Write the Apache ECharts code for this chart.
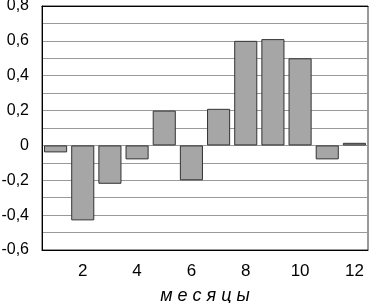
<!DOCTYPE html>
<html><head><meta charset="utf-8">
<script src="https://cdn.jsdelivr.net/npm/echarts@6/dist/echarts.min.js"></script>
<style>html,body{margin:0;padding:0;background:#fff}#c{width:371px;height:303px}</style>
</head><body><div id="c"></div>
<script>
var months = ['1','2','3','4','5','6','7','8','9','10','11','12'];
var values = [-0.04, -0.43, -0.22, -0.08, 0.2, -0.2, 0.21, 0.6, 0.61, 0.5, -0.08, 0.015];
var yMin = -0.6, yMax = 0.8, yStep = 0.1;
var axisName = 'м е с я ц ы';

var chart = echarts.init(document.getElementById('c'), null, {renderer: 'canvas'});
var font = 'Liberation Sans, Arial, sans-serif';
chart.setOption({
  animation: false,
  grid: {left: 42, right: 3, top: 6, bottom: 53, show: true, borderColor: '#333', borderWidth: 1,
         containLabel: false, outerBoundsMode: 'none'},
  xAxis: [{
    type: 'category', data: months, position: 'bottom',
    axisLine: {onZero: false, lineStyle: {color: '#000', width: 1}},
    axisTick: {alignWithLabel: true, interval: 0, length: 4, lineStyle: {color: '#000'}},
    axisLabel: {interval: function(i){return i % 2 === 1;}, color: '#000', fontSize: 17, fontFamily: font, margin: 13},
    name: axisName, nameLocation: 'middle', nameGap: 37,
    nameTextStyle: {color: '#000', fontSize: 18, fontStyle: 'italic', fontFamily: font},
    splitLine: {show: false}
  }, {
    type: 'category', data: months, position: 'top',
    axisLine: {onZero: false, lineStyle: {color: '#000', width: 1}},
    axisTick: {alignWithLabel: true, interval: 0, length: 4, lineStyle: {color: '#000'}},
    axisLabel: {show: false}, splitLine: {show: false}
  }],
  yAxis: {
    type: 'value', min: yMin, max: yMax, interval: yStep,
    axisLine: {show: true, lineStyle: {color: '#000', width: 1}},
    axisTick: {show: false},
    axisLabel: {
      color: '#000', fontSize: 16, fontFamily: font, margin: 13,
      formatter: function(v){
        var k = Math.round(v * 10);
        if (k % 2 !== 0) return '';
        if (k === 0) return '0';
        return (k / 10).toFixed(1).replace('.', ',');
      }
    },
    splitLine: {show: true, lineStyle: {color: '#999', width: 1}}
  },
  series: [{
    type: 'bar', data: values, xAxisIndex: 0, barCategoryGap: '15%',
    itemStyle: {color: '#a6a6a6', borderColor: '#333', borderWidth: 1}
  }]
});
</script></body></html>
